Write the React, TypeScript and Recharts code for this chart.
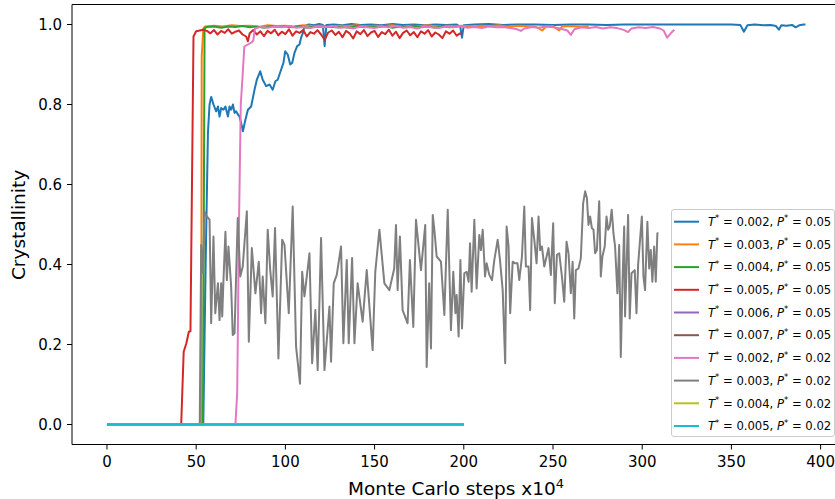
import React from 'react';
import { LineChart, Line, XAxis, YAxis, ReferenceLine, Label } from 'recharts';

type Pt = [number, number];

const xTicks = [0, 50, 100, 150, 200, 250, 300, 350, 400];
const yTicks = [0, 0.2, 0.4, 0.6, 0.8, 1.0];

const tempLabels = ['0.002', '0.003', '0.004', '0.005', '0.006', '0.007', '0.002', '0.003', '0.004', '0.005'];
const pressLabels = ['0.05', '0.05', '0.05', '0.05', '0.05', '0.05', '0.02', '0.02', '0.02', '0.02'];
const colors = ['#1f77b4', '#ff7f0e', '#2ca02c', '#d62728', '#9467bd', '#8c564b', '#e377c2', '#7f7f7f', '#bcbd22', '#17becf'];

const blueT002P005: Pt[] = [
  [0, 0], [54, 0], [55.3, 0.4], [56.6, 0.73], [57.5, 0.8], [58.4, 0.819], [59.7, 0.8], [61.2, 0.783], [62.2, 0.795],
  [63.1, 0.77], [64, 0.791], [65.3, 0.787], [66.4, 0.795], [67.8, 0.77], [68.7, 0.795], [69.6, 0.787], [70.6, 0.8],
  [71.5, 0.779], [72.4, 0.783], [73.4, 0.775], [74.3, 0.77], [75.2, 0.754], [76.2, 0.733], [77.5, 0.76], [79, 0.787],
  [80.8, 0.795], [82.7, 0.837], [84, 0.862], [85.9, 0.883], [87.3, 0.862], [89.2, 0.846], [91.1, 0.85], [92.9, 0.837],
  [94.4, 0.858], [95.7, 0.862], [97.6, 0.887], [98.9, 0.904], [99.9, 0.933], [101.3, 0.925], [102.7, 0.9], [103.8, 0.904],
  [105.1, 0.929], [106.6, 0.946], [107.9, 0.95], [108.8, 0.967], [109.7, 0.977], [110.7, 0.996], [113, 1.0], [116, 0.998],
  [119, 1.001], [121, 0.999], [122, 0.946], [123, 0.999], [127, 1.0], [132, 0.998], [137, 1.001], [142, 0.999], [148, 1.0],
  [154, 0.998], [160, 1.001], [166, 0.999], [172, 1.0], [178, 0.998], [184, 1.0], [190, 0.999], [196, 1.0], [198, 0.995],
  [199, 0.967], [200, 0.998], [206, 1.0], [214, 1.001], [222, 0.999], [230, 1.0], [240, 1.0], [250, 0.999], [260, 1.0],
  [270, 1.0], [280, 0.999], [290, 1.0], [300, 1.0], [310, 1.0], [320, 1.0], [330, 1.0], [340, 1.0], [350, 1.0],
  [355, 0.999], [357, 0.982], [359, 0.998], [363, 1.0], [368, 0.998], [372, 0.999], [375, 0.996], [376.6, 0.987],
  [378, 0.998], [381, 0.997], [384, 0.999], [386, 0.993], [388, 0.998], [390.6, 1.0], [391.5, 1.0],
];

const orangeT003P005: Pt[] = [
  [0, 0], [52.8, 0], [53.1, 0.92], [54, 0.99], [55, 0.995], [60, 0.997], [65, 0.995], [70, 0.998], [75, 0.996],
  [80, 0.997], [85, 0.994], [90, 0.998], [95, 0.996], [100, 0.997], [105, 0.995], [110, 0.998], [115, 0.996],
  [120, 0.997], [125, 0.994], [130, 0.997], [135, 0.996], [140, 0.998], [145, 0.995], [150, 0.997], [155, 0.996],
  [160, 0.998], [165, 0.994], [170, 0.997], [175, 0.996], [180, 0.998], [185, 0.995], [190, 0.997], [195, 0.996],
  [200, 0.997], [205, 0.995], [210, 0.997], [215, 0.996], [220, 0.998], [225, 0.994], [230, 0.997], [235, 0.996],
  [240, 0.995], [244, 0.985], [246, 0.995], [250, 0.996], [253.5, 0.985], [255, 0.995], [260, 0.996], [265, 0.994], [270, 0.996],
];

const greenT004P005: Pt[] = [
  [0, 0], [53.8, 0], [54.7, 0.99], [56, 0.994], [60, 0.995], [64, 0.992], [68, 0.995], [72, 0.994], [76, 0.996],
  [80, 0.993], [84, 0.995], [88, 0.992], [92, 0.996], [96, 0.994], [100, 0.995], [104, 0.993], [108, 0.996],
  [112, 0.992], [116, 0.995], [120, 0.994], [124, 0.996], [128, 0.993], [132, 0.994], [136, 0.992], [140, 0.996],
  [144, 0.993], [148, 0.995], [152, 0.994], [156, 0.996], [160, 0.992], [164, 0.995], [168, 0.993], [172, 0.996],
  [176, 0.994], [180, 0.995], [184, 0.992], [188, 0.996], [192, 0.993], [197, 0.995],
];

const redT005P005: Pt[] = [
  [0, 0], [41.6, 0], [43, 0.182], [44.5, 0.203], [45.9, 0.232], [46.8, 0.233], [48.5, 0.97], [50, 0.983], [52, 0.985],
  [54, 0.987], [56, 0.984], [58, 0.978], [60, 0.986], [62, 0.975], [64, 0.984], [66, 0.979], [68, 0.988], [70, 0.977],
  [72, 0.982], [74, 0.985], [76, 0.975], [78, 0.97], [79, 0.958], [80, 0.978], [82, 0.986], [84, 0.975], [86, 0.983],
  [88, 0.971], [90, 0.984], [92, 0.978], [94, 0.987], [96, 0.973], [98, 0.982], [100, 0.976], [102, 0.988], [104, 0.972],
  [106, 0.983], [108, 0.979], [110, 0.986], [112, 0.97], [114, 0.981], [116, 0.977], [118, 0.986], [120, 0.975],
  [122, 0.962], [124, 0.98], [126, 0.985], [128, 0.974], [130, 0.982], [132, 0.968], [134, 0.984], [136, 0.978],
  [138, 0.965], [140, 0.983], [142, 0.976], [144, 0.986], [146, 0.971], [148, 0.98], [150, 0.984], [152, 0.969],
  [154, 0.981], [156, 0.976], [158, 0.987], [160, 0.972], [162, 0.982], [164, 0.966], [166, 0.979], [168, 0.985],
  [170, 0.973], [172, 0.981], [174, 0.968], [176, 0.983], [178, 0.977], [180, 0.986], [182, 0.97], [184, 0.98],
  [186, 0.975], [188, 0.966], [190, 0.983], [192, 0.977], [194, 0.985], [196, 0.972], [198, 0.978], [199, 0.976],
];

const purpleT006P005: Pt[] = [[0, 0], [200, 0]];
const brownT007P005: Pt[] = [[0, 0], [200, 0]];

const pinkT002P002: Pt[] = [
  [0, 0], [72, 0], [73, 0.08], [74, 0.5], [75, 0.8], [76, 0.87], [77, 0.945], [79, 0.95], [81, 0.955], [82, 0.96],
  [83, 0.99], [86, 0.994], [90, 0.992], [94, 0.995], [98, 0.993], [102, 0.996], [106, 0.992], [110, 0.994], [114, 0.991],
  [118, 0.995], [122, 0.993], [126, 0.996], [130, 0.992], [134, 0.994], [138, 0.99], [142, 0.995], [146, 0.993],
  [150, 0.991], [154, 0.995], [158, 0.993], [162, 0.996], [166, 0.992], [170, 0.994], [174, 0.99], [178, 0.995],
  [182, 0.993], [186, 0.991], [190, 0.995], [194, 0.993], [198, 0.996], [202, 0.992], [206, 0.994], [210, 0.991],
  [214, 0.995], [218, 0.993], [222, 0.994], [226, 0.991], [230, 0.988], [232, 0.984], [234, 0.99], [238, 0.994],
  [242, 0.992], [246, 0.995], [250, 0.993], [254, 0.99], [258, 0.985], [260, 0.974], [262, 0.988], [266, 0.993],
  [270, 0.991], [274, 0.994], [278, 0.99], [282, 0.993], [286, 0.991], [290, 0.986], [292, 0.981], [294, 0.99],
  [298, 0.993], [302, 0.991], [306, 0.994], [310, 0.99], [312, 0.985], [314, 0.967], [316, 0.978], [318, 0.987],
];

const grayT003P002: Pt[] = [
  [0, 0], [52, 0], [52.8, 0.449], [53.8, 0.378], [54.7, 0.532], [56, 0.52], [57.5, 0.512], [58.4, 0.253], [59.7, 0.47],
  [60.7, 0.278], [62.2, 0.353], [63.1, 0.261], [64, 0.353], [64.6, 0.27], [65.3, 0.361], [66.4, 0.482], [67.2, 0.361],
  [68.1, 0.445], [69.6, 0.345], [70.5, 0.224], [71.5, 0.228], [73.3, 0.516], [74.7, 0.37], [76.1, 0.395], [78.4, 0.533],
  [79.5, 0.207], [81.2, 0.441], [83.2, 0.328], [85.1, 0.407], [86.4, 0.278], [87.3, 0.37], [88.8, 0.253], [90.1, 0.487],
  [91.5, 0.386], [92.9, 0.32], [94.2, 0.491], [96.1, 0.165], [98.2, 0.462], [99.5, 0.449], [101.9, 0.278], [104.1, 0.545],
  [106, 0.194], [108.2, 0.102], [109.4, 0.382], [110.7, 0.32], [113.5, 0.428], [115, 0.153], [116.8, 0.286], [118.1, 0.136],
  [120, 0.466], [121.9, 0.136], [124.7, 0.295], [125.6, 0.157], [127.1, 0.353], [128.8, 0.374], [131.2, 0.445],
  [132.5, 0.203], [134.4, 0.411], [135.5, 0.203], [137.4, 0.416], [138.7, 0.203], [140.5, 0.353], [143.3, 0.257],
  [145.6, 0.386], [148.9, 0.186], [150.4, 0.382], [152.7, 0.487], [155.5, 0.353], [158.3, 0.336], [161, 0.39], [162, 0.499],
  [162.9, 0.336], [164.2, 0.47], [165.7, 0.286], [168.5, 0.253], [169.8, 0.411], [171.7, 0.244], [173.2, 0.512], [176, 0.386],
  [178.4, 0.499], [179.2, 0.144], [180.6, 0.353], [181.6, 0.19], [182.6, 0.524], [183.5, 0.487], [184.8, 0.42],
  [187.2, 0.407], [189.1, 0.274], [191, 0.537], [192.8, 0.236], [194.1, 0.382], [195.3, 0.278], [196, 0.324], [197.1, 0.22],
  [198.1, 0.411], [199, 0.24], [200.3, 0.378], [201.6, 0.382], [202.7, 0.357], [203.5, 0.453], [204.4, 0.332],
  [205.9, 0.512], [207.2, 0.34], [208.7, 0.474], [209.6, 0.436], [210.6, 0.487], [211.9, 0.37], [212.8, 0.403],
  [214.3, 0.374], [215.8, 0.361], [217.1, 0.411], [219, 0.462], [220.3, 0.411], [221.8, 0.336], [223.2, 0.153],
  [224, 0.495], [225.1, 0.445], [226, 0.278], [227.4, 0.407], [228.8, 0.403], [230.1, 0.403], [231.1, 0.361], [232.6, 0.42],
  [233.9, 0.545], [234.8, 0.395], [236.3, 0.395], [237.2, 0.286], [238.2, 0.516], [239.5, 0.462], [240.8, 0.403],
  [241.9, 0.52], [242.8, 0.436], [243.8, 0.445], [245.1, 0.395], [247.5, 0.441], [248.8, 0.374], [250.1, 0.503],
  [251, 0.303], [252.2, 0.424], [253.5, 0.428], [255, 0.37], [256.3, 0.307], [257.6, 0.457], [258.7, 0.428], [260, 0.328],
  [261, 0.407], [261.9, 0.265], [262.8, 0.386], [264.3, 0.39], [265.6, 0.416], [266.9, 0.553], [268, 0.583], [269, 0.566],
  [269.9, 0.499], [270.8, 0.52], [271.8, 0.491], [272.7, 0.487], [273.6, 0.428], [274.6, 0.436], [275.9, 0.558],
  [276.8, 0.37], [277.7, 0.42], [279, 0.445], [280, 0.52], [280.9, 0.487], [281.8, 0.495], [282.9, 0.537], [283.9, 0.478],
  [284.8, 0.445], [286.1, 0.328], [287.1, 0.449], [288, 0.169], [289, 0.361], [289.9, 0.495], [290.4, 0.27], [292.1, 0.524],
  [293, 0.265], [294, 0.378], [295.8, 0.386], [296.8, 0.278], [297.7, 0.399], [299.8, 0.52], [300.7, 0.37], [301.6, 0.336],
  [302.9, 0.507], [303.9, 0.39], [304.8, 0.436], [305.7, 0.357], [306.7, 0.445], [307.6, 0.357], [308.5, 0.478], [309.1, 0.478],
];

const oliveT004P002: Pt[] = [[0, 0], [200, 0]];
const cyanT005P002: Pt[] = [[0, 0], [200, 0]];

const allSeries: Pt[][] = [
  blueT002P005, orangeT003P005, greenT004P005, redT005P005, purpleT006P005,
  brownT007P005, pinkT002P002, grayT003P002, oliveT004P002, cyanT005P002,
];

const FONT = '"DejaVu Sans", sans-serif';

const XAxisLabel = () => (
  <text x={456} y={495} textAnchor="middle" fontFamily={FONT} fontSize={18.5} fill="#000">
    Monte Carlo steps x10
    <tspan dy={-7} fontSize={13}>4</tspan>
  </text>
);

const YAxisLabel = () => (
  <text x={25} y={225} transform="rotate(-90, 25, 225)" textAnchor="middle" fontFamily={FONT} fontSize={18.5} fill="#000">
    Crystallinity
  </text>
);

const LegendBox = () => (
  <div
    style={{
      position: 'absolute', left: 671, top: 209, width: 164, height: 228, boxSizing: 'border-box',
      border: '1px solid #cccccc', borderRadius: 3, background: 'rgba(255,255,255,0.85)',
    }}
  >
    <svg width={164} height={228} style={{ display: 'block', position: 'absolute', left: -1, top: -1 }}>
      {tempLabels.map((t, i) => {
        const cy = 12.7 + 22.7 * i;
        return (
          <g key={i}>
            <line x1={3} x2={28} y1={cy} y2={cy} stroke={colors[i]} strokeWidth={2} />
            <text x={37} y={cy + 4.2} fontFamily={FONT} fontSize={11.6} fill="#000">
              <tspan fontStyle="italic">T</tspan>
              <tspan dy={-4.5} fontSize={8.5}>*</tspan>
              <tspan dy={4.5}>{` = ${t}, `}</tspan>
              <tspan fontStyle="italic">P</tspan>
              <tspan dy={-4.5} fontSize={8.5}>*</tspan>
              <tspan dy={4.5}>{` = ${pressLabels[i]}`}</tspan>
            </text>
          </g>
        );
      })}
    </svg>
  </div>
);

export default function App() {
  return (
    <div style={{ position: 'absolute', left: 0, top: 0, width: 835, height: 499, overflow: 'hidden', background: '#fff' }}>
      <LineChart width={850} height={499} margin={{ top: 4.5, right: 9.4, bottom: 0, left: 0 }}>
        <XAxis
          dataKey="x"
          type="number"
          domain={[-19.6, 411.2]}
          allowDataOverflow
          ticks={xTicks}
          interval={0}
          height={54.5}
          tickSize={5}
          tickMargin={7}
          stroke="#000"
          tick={{ fontFamily: FONT, fontSize: 15, fill: '#000' }}
        >
          <Label content={() => <XAxisLabel />} />
        </XAxis>
        <YAxis
          type="number"
          domain={[-0.05, 1.05]}
          allowDataOverflow
          ticks={yTicks}
          interval={0}
          width={72}
          tickSize={5}
          tickMargin={5}
          stroke="#000"
          tickFormatter={(v: number) => v.toFixed(1)}
          tick={{ fontFamily: FONT, fontSize: 15, fill: '#000' }}
        >
          <Label content={() => <YAxisLabel />} />
        </YAxis>
        <ReferenceLine y={1.05} stroke="#000" strokeWidth={1} ifOverflow="visible" />
        {allSeries.map((pts, i) => (
          <Line
            key={i}
            data={pts.map(([x, y]) => ({ x, y }))}
            dataKey="y"
            type="linear"
            stroke={colors[i]}
            strokeWidth={2}
            dot={false}
            activeDot={false}
            isAnimationActive={false}
            strokeLinejoin="round"
          />
        ))}
      </LineChart>
      <LegendBox />
    </div>
  );
}
